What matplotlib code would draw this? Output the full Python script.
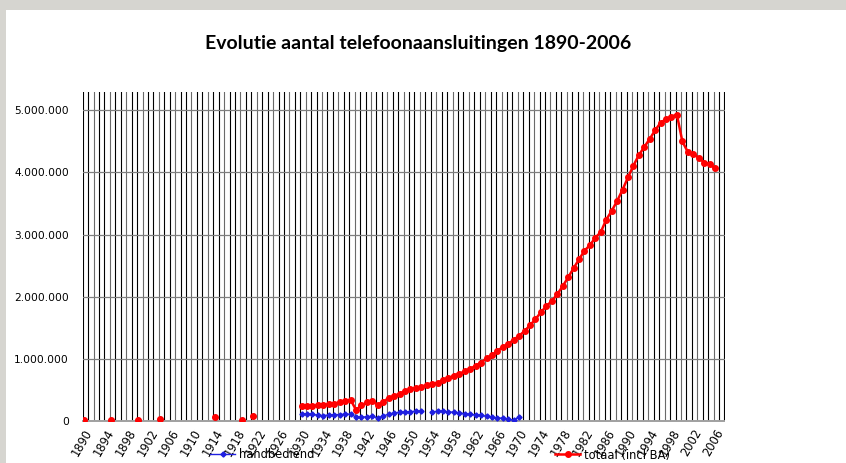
import matplotlib
matplotlib.use("Agg")
import matplotlib.pyplot as plt
import numpy as np
import pandas as pd
from matplotlib.patches import Rectangle

# early isolated observations (both series identical: all manual)
early_years = [1890, 1895, 1900, 1904, 1914, 1919, 1921]
early_values = [20000, 20000, 20000, 40000, 65000, 20000, 80000]

# totaal (incl BA), yearly from 1930
totaal_years = list(range(1930, 2007))
totaal_values = [
    237000, 248000, 237000, 253000, 258000, 269000, 280000, 300000, 320000, 340000,
    180000, 250000, 300000, 320000, 260000, 310000, 370000, 400000, 440000, 480000,
    510000, 530000, 550000, 580000, 600000, 610000, 660000, 690000, 730000, 760000,
    800000, 840000, 890000, 940000, 1010000, 1060000, 1130000, 1190000, 1240000, 1310000,
    1370000, 1450000, 1540000, 1640000, 1750000, 1850000, 1930000, 2040000, 2170000, 2310000,
    2460000, 2600000, 2740000, 2830000, 2950000, 3040000, 3240000, 3380000, 3540000, 3720000,
    3920000, 4110000, 4280000, 4410000, 4540000, 4680000, 4800000, 4860000, 4900000, 4930000,
    4500000, 4330000, 4290000, 4240000, 4160000, 4140000, 4070000,
]

# handbediend, yearly from 1930 (no value for 1953)
hand_years = list(range(1930, 1971))
hand_values = [
    119000, 114000, 109000, 92000, 87000, 97000, 103000, 103000, 109000, 109000,
    65000, 60000, 70000, 76000, 49000, 81000, 109000, 130000, 140000, 146000,
    151000, 157000, 157000, np.nan, 146000, 157000, 157000, 146000, 140000, 130000,
    119000, 109000, 97000, 92000, 76000, 60000, 49000, 44000, 33000, 10000,
    70000,
]

all_years = np.arange(1890, 2007)
totaal = pd.Series(early_values, index=early_years).combine_first(
    pd.Series(totaal_values, index=totaal_years)).reindex(all_years)
hand = pd.Series(early_values, index=early_years).combine_first(
    pd.Series(hand_values, index=hand_years)).reindex(all_years)

fig = plt.figure(figsize=(8.46, 4.63), dpi=100)
fig.patch.set_facecolor("white")
# grey screenshot frame at top and left
fig.patches.append(Rectangle((0, 1 - 10 / 463), 1, 10 / 463, transform=fig.transFigure,
                             facecolor="#d6d5d0", edgecolor="none", zorder=0))
fig.patches.append(Rectangle((0, 0), 6 / 846, 1, transform=fig.transFigure,
                             facecolor="#d6d5d0", edgecolor="none", zorder=0))

ax = fig.add_axes([82.7 / 846, 1 - 421 / 463, (724.5 - 82.7) / 846, (421 - 91.7) / 463])
ax.set_xlim(1889.75, 2007.75)
ax.set_ylim(0, 5.3e6)

for i, x in enumerate(np.arange(1889.75, 2008, 1.0)):
    ax.axvline(x, color="black" if i % 3 != 2 else "#6a6a6a", lw=0.8, zorder=1)
for y in range(1000000, 5000001, 1000000):
    ax.axhline(y, color="#7f7f7f", lw=0.9, zorder=1)

hand_line, = ax.plot(all_years, hand.values, color="#1f1fe0", lw=1.0, marker="D",
                     markersize=2.6, zorder=3, label="handbediend")
tot_line, = ax.plot(all_years, totaal.values, color="#ff0000", lw=1.8, marker="o",
                    markersize=4.0, zorder=4, label="totaal (incl BA)")

for side in ["top", "right", "left"]:
    ax.spines[side].set_visible(False)
ax.spines["bottom"].set_color("#a0a0a0")
ax.spines["bottom"].set_linewidth(1.4)
ax.spines["bottom"].set_zorder(2)

ax.set_yticks(range(0, 5000001, 1000000))
ax.set_yticklabels([f"{v:,}".replace(",", ".") for v in range(0, 5000001, 1000000)])
xt = list(range(1890, 2007, 4))
ax.set_xticks(xt)
ax.set_xticklabels([str(v) for v in xt], rotation=60, ha="right", va="top",
                   rotation_mode="anchor")
ax.tick_params(axis="both", length=0)
ax.tick_params(axis="y", pad=10, labelsize=7.7)
ax.tick_params(axis="x", pad=4, labelsize=8.3)

fig.text(0.494, 1 - 43 / 463, "Evolutie aantal telefoonaansluitingen 1890-2006",
         ha="center", va="center", fontsize=14, fontweight="bold", family="Lato")

for handle, xpos in [(hand_line, 210), (tot_line, 555)]:
    fig.legend(handles=[handle], loc="center left", bbox_to_anchor=(xpos / 846, 1 - 455 / 463),
               frameon=False, borderpad=0, borderaxespad=0, handlelength=2.2,
               handletextpad=0.3, fontsize=8.3)

fig.savefig("out.png", dpi=100)
